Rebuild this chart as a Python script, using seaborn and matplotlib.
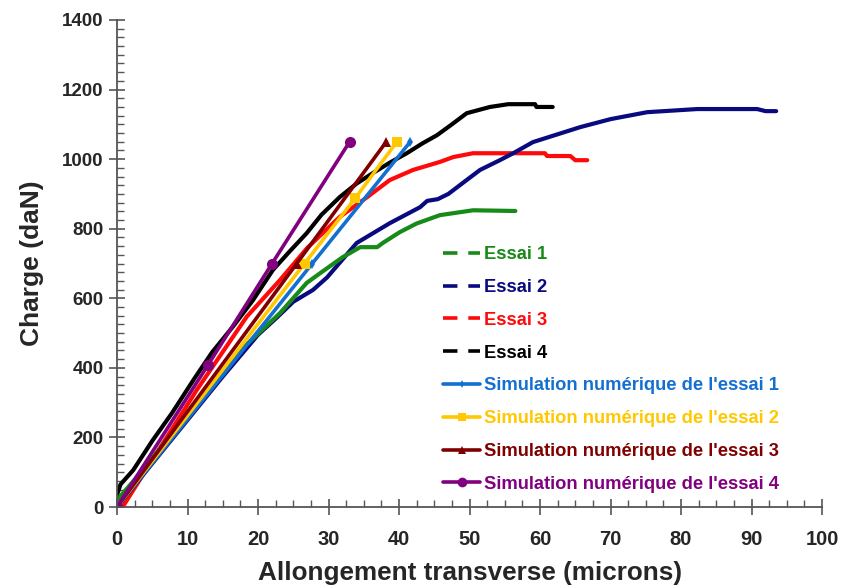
import matplotlib
matplotlib.use("Agg")
import matplotlib.pyplot as plt
from matplotlib.lines import Line2D
from matplotlib.ticker import MultipleLocator
from matplotlib import font_manager
import seaborn as sns
import pandas as pd

# ---------------- data ----------------
essai1_x = [0, 3, 8, 13.6, 18, 23.1, 26.9, 28.8, 32, 34.5, 36.9, 37.7, 40.1, 42.5, 45.8, 50.5, 56.5]
essai1_y = [20, 90, 215, 350, 460, 557, 644, 672, 718, 747, 747, 759, 790, 815, 839, 853, 851]

essai2_x = [0, 5, 10, 15, 20, 22.7, 25, 27.8, 29.8, 34, 38.7, 43, 44, 45.5, 47, 49.6, 51.5, 54.3, 56.2,
            59, 65.7, 70, 75.2, 82.3, 90.8, 92, 93.5]
essai2_y = [0, 125, 250, 375, 495, 545, 590, 624, 660, 759, 816, 862, 880, 885, 900, 940, 969, 997, 1017,
            1049, 1092, 1115, 1135, 1144, 1144, 1138, 1138]

essai3_x = [0.8, 5, 11.3, 18.4, 23.1, 27, 31.6, 35.5, 38.7, 42, 45.8, 47.7, 50.5, 60.7, 61, 64.3, 65, 66.7]
essai3_y = [0, 135, 336, 547, 652, 745, 834, 891, 940, 969, 992, 1006, 1017, 1017, 1009, 1009, 997, 997]

essai4_x = [0, 0.5, 2.3, 5, 7.8, 11, 13.5, 16.5, 19.3, 22.1, 24.5, 26.9, 29, 31.6, 34, 36.3, 38.7, 41.1,
            43.3, 45.4, 47.5, 49.6, 52.9, 55.5, 59.3, 59.5, 61.8]
essai4_y = [35, 65, 106, 190, 270, 370, 445, 520, 595, 681, 735, 787, 840, 891, 930, 960, 990, 1017,
            1045, 1069, 1100, 1132, 1150, 1158, 1158, 1150, 1150]

sim1_x = [0, 27.7, 41.6]
sim1_y = [0, 700, 1050]
sim2_x = [0, 26.6, 33.8, 39.7]
sim2_y = [0, 700, 888, 1050]
sim3_x = [0, 25.5, 38.2]
sim3_y = [0, 700, 1050]
sim4_x = [0, 12.9, 22, 33]
sim4_y = [0, 408, 700, 1050]

labels = ["Essai 1", "Essai 2", "Essai 3", "Essai 4",
          "Simulation numérique de l'essai 1", "Simulation numérique de l'essai 2",
          "Simulation numérique de l'essai 3", "Simulation numérique de l'essai 4"]
colors = ["#178a17", "#0a0a80", "#ff0a0a", "#000000",
          "#1470d0", "#ffc800", "#800000", "#800080"]
markers = [None, None, None, None, "d", "s", "^", "o"]
msizes = [0, 0, 0, 0, 5, 7, 7, 8]

xs = [essai1_x, essai2_x, essai3_x, essai4_x, sim1_x, sim2_x, sim3_x, sim4_x]
ys = [essai1_y, essai2_y, essai3_y, essai4_y, sim1_y, sim2_y, sim3_y, sim4_y]

# ---------------- style ----------------
sns.set_style("white")
names = {f.name for f in font_manager.fontManager.ttflist}
base = "Liberation Sans" if "Liberation Sans" in names else "DejaVu Sans"
narrow = "Liberation Sans Narrow" if "Liberation Sans Narrow" in names else base
plt.rcParams["font.family"] = [base, "DejaVu Sans"]
plt.rcParams["font.weight"] = "bold"

fig = plt.figure(figsize=(8.43, 5.88), dpi=100)
ax = fig.add_axes([117 / 843, 1 - 507 / 588, (822 - 117) / 843, (507 - 20) / 588])

order = [3, 2, 1, 0, 4, 5, 6, 7]
for i in order:
    df = pd.DataFrame({"x": xs[i], "y": ys[i]})
    lw = 3.0 if i < 4 else 2.6
    sns.lineplot(data=df, x="x", y="y", ax=ax, sort=False, estimator=None,
                 color=colors[i], linewidth=lw,
                 marker=markers[i] if markers[i] else None,
                 markersize=msizes[i], markeredgewidth=0, legend=False)

ax.set_xlim(0, 100)
ax.set_ylim(0, 1400)
ax.xaxis.set_major_locator(MultipleLocator(10))
ax.xaxis.set_minor_locator(MultipleLocator(2.5))
ax.yaxis.set_major_locator(MultipleLocator(200))
ax.yaxis.set_minor_locator(MultipleLocator(25))

for s in ["top", "right"]:
    ax.spines[s].set_visible(False)
for s in ["left", "bottom"]:
    ax.spines[s].set_color("#555555")
    ax.spines[s].set_linewidth(1.3)

ax.tick_params(which="both", bottom=True, left=True, top=False, right=False)
ax.tick_params(which="major", direction="inout", length=11, width=1.2, color="#555555")
ax.tick_params(which="minor", direction="in", length=5, width=1.0, color="#555555")
ax.tick_params(axis="y", which="major", pad=4)
ax.tick_params(axis="x", which="major", pad=11)

for t in ax.get_yticklabels():
    t.set_fontsize(13.5)
    t.set_fontweight("bold")
for t in ax.get_xticklabels():
    t.set_fontsize(14.5)
    t.set_fontweight("bold")
    t.set_family(narrow)

ax.set_ylabel("Charge (daN)", fontsize=19, fontweight="bold", labelpad=13)
ax.set_xlabel("Allongement transverse (microns)", fontsize=18.8, fontweight="bold",
              family=narrow, labelpad=9)

handles = []
for i in range(8):
    if i < 4:
        h = Line2D([], [], color=colors[i], linewidth=2.6, linestyle=(0, (4.0, 3.0)))
    else:
        h = Line2D([], [], color=colors[i], linewidth=2.6, marker=markers[i],
                   markersize=msizes[i] - 1, markeredgewidth=0)
    handles.append(h)

leg = ax.legend(handles, labels, loc="upper left",
                bbox_to_anchor=((436 - 117) / 705, (507 - 239) / 487),
                frameon=False, fontsize=13.2, handlelength=2.0, handletextpad=0.2,
                labelspacing=0.86, borderaxespad=0)
for txt, c in zip(leg.get_texts(), colors):
    txt.set_color(c)
    txt.set_fontweight("bold")

fig.savefig("out.png", dpi=100)
